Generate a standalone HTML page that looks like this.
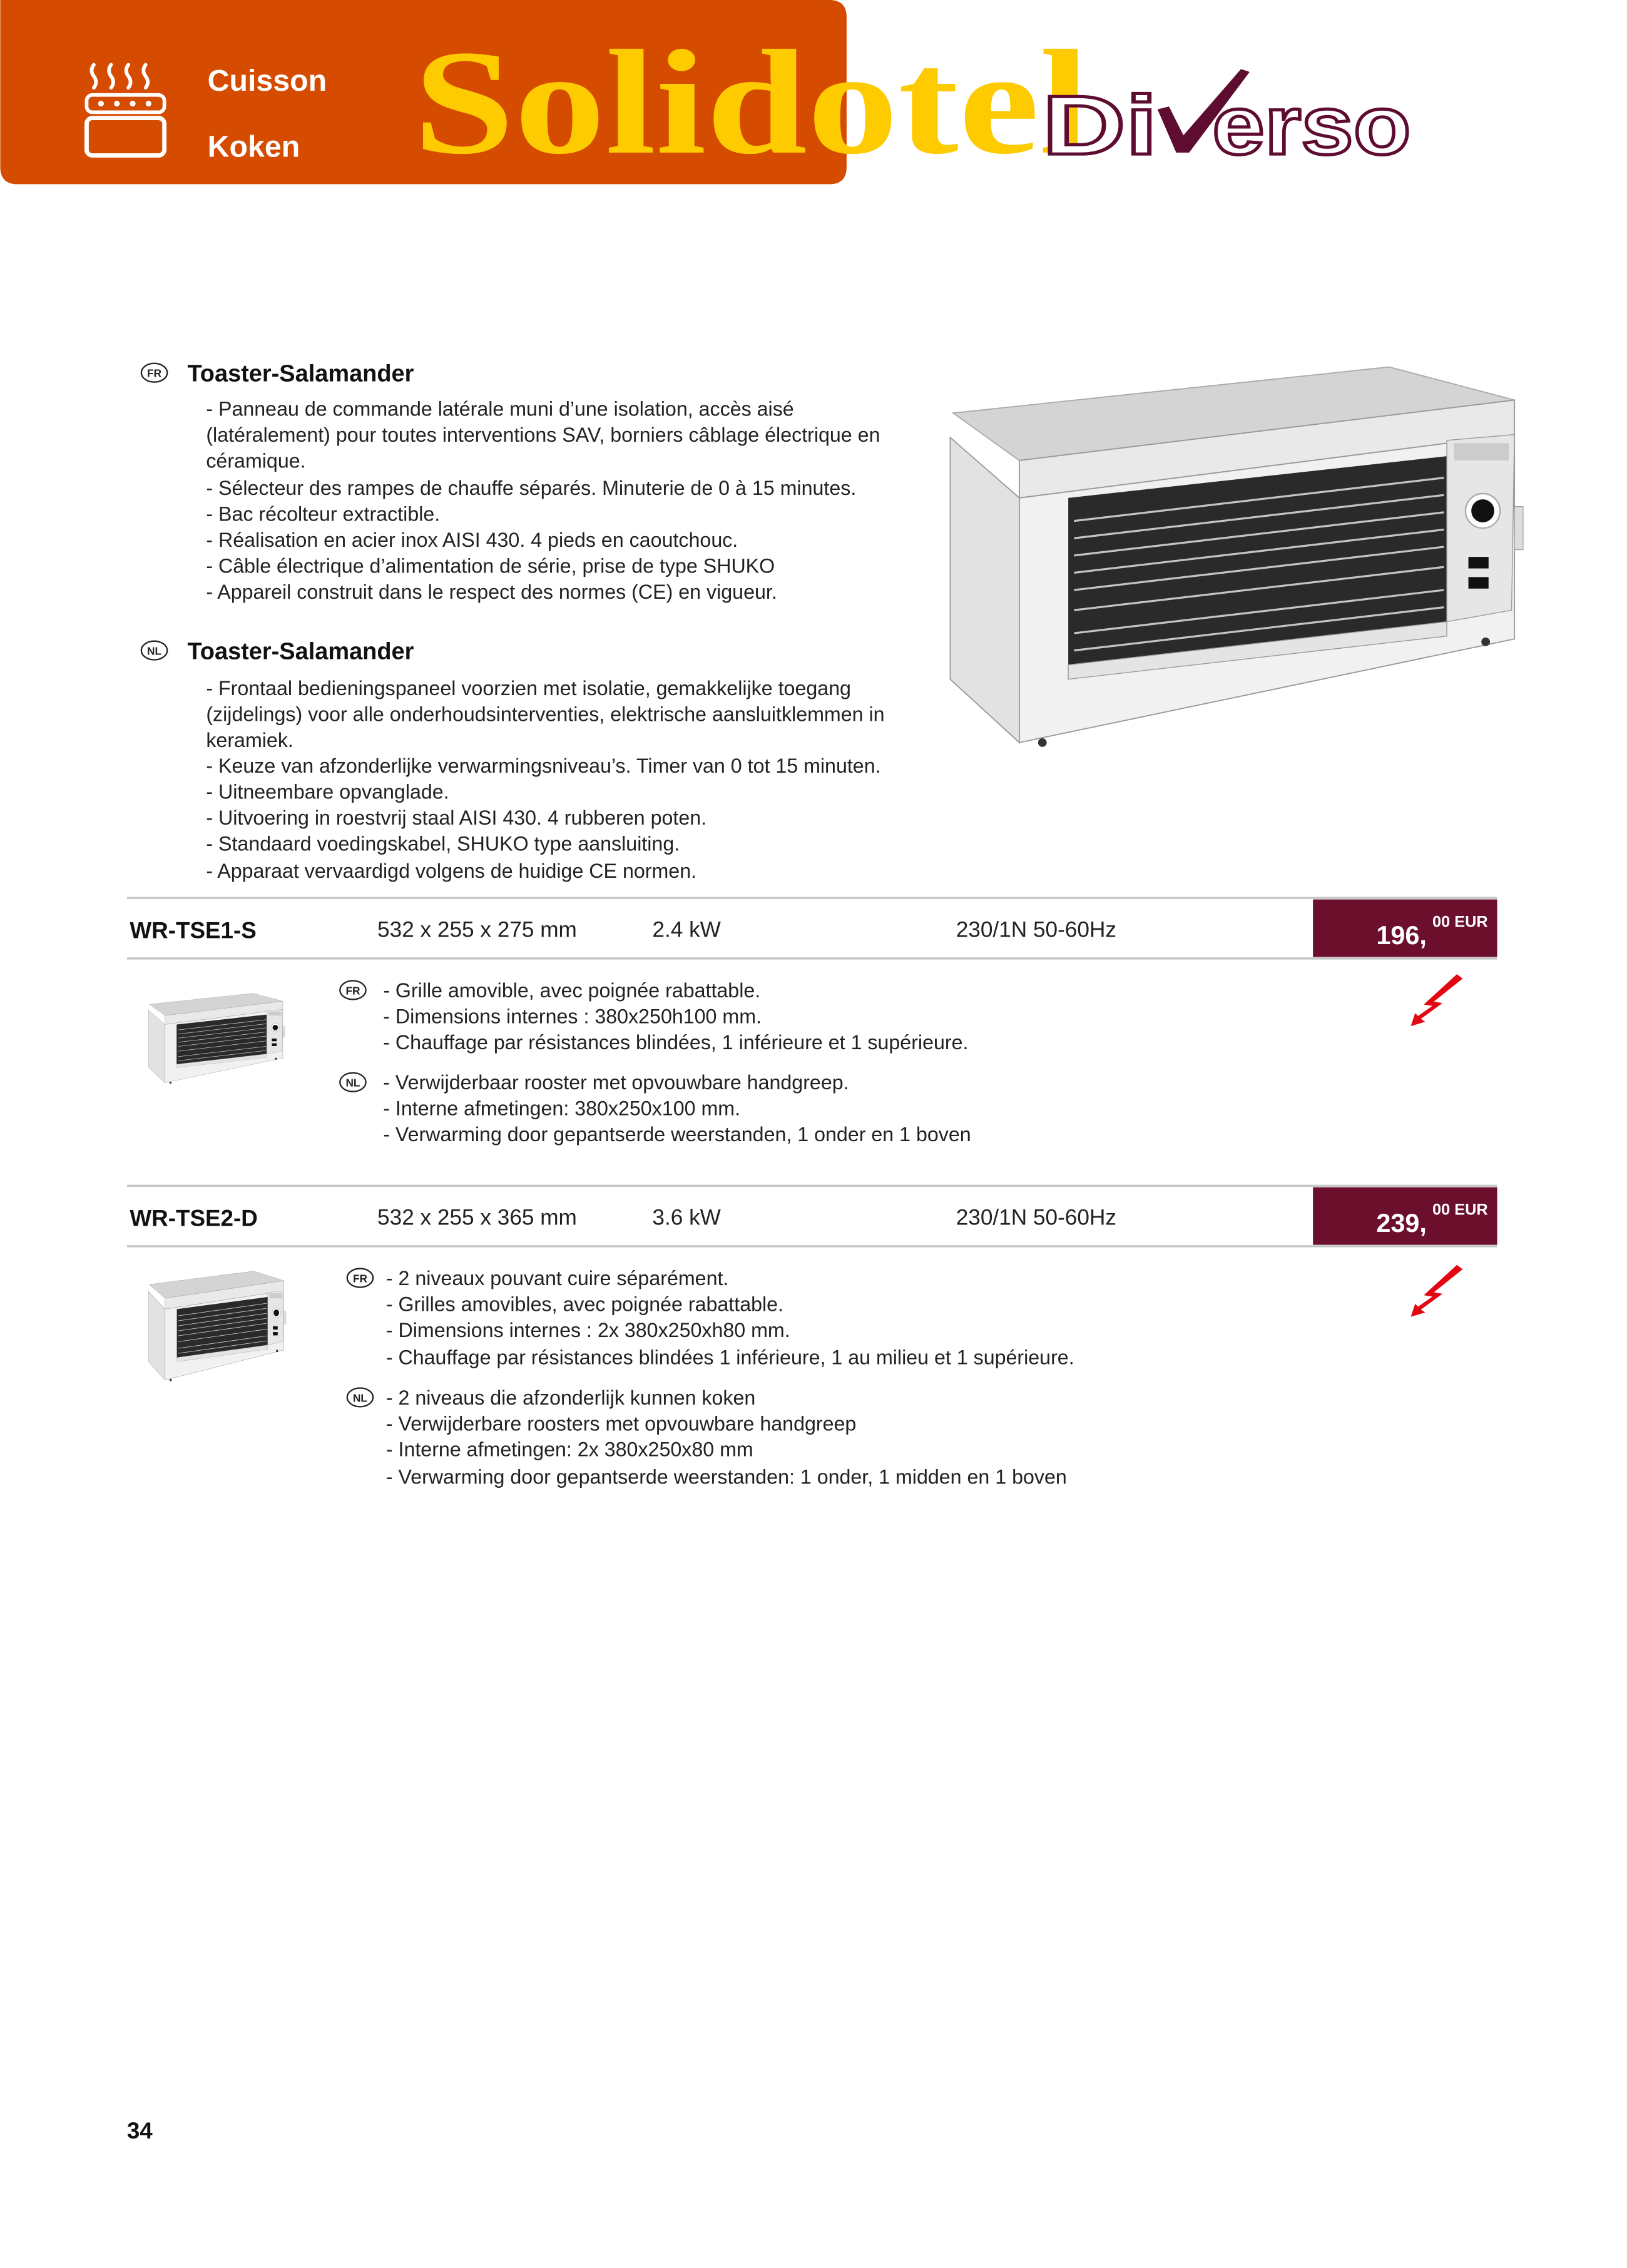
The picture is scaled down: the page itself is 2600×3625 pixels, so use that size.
<!DOCTYPE html>
<html><head><meta charset="utf-8"><style>html,body{margin:0;padding:0;background:#fff}svg{display:block}</style></head>
<body>
<svg xmlns="http://www.w3.org/2000/svg" width="2600" height="3625" viewBox="0 0 1130 1576" font-family="Liberation Sans, sans-serif">
<defs>
<g id="toaster">
  <polygon points="2,33 305,1 392,24 48,66" fill="#d4d4d4" stroke="#aaa" stroke-width="0.8"/>
  <polygon points="48,66 392,24 392,48 48,92" fill="#e9e9e9" stroke="#999" stroke-width="0.8"/>
  <polygon points="0,50 48,92 48,262 0,218" fill="#e2e2e2" stroke="#999" stroke-width="0.8"/>
  <polygon points="48,92 392,48 392,190 48,262" fill="#f1f1f1" stroke="#999" stroke-width="0.8"/>
  <polygon points="82,92 345,63 345,180 82,210" fill="#2a2a2a"/>
  <g stroke="#c4c4c4" stroke-width="1.4">
    <line x1="86" y1="108" x2="343" y2="78"/><line x1="86" y1="120" x2="343" y2="90"/>
    <line x1="86" y1="132" x2="343" y2="102"/><line x1="86" y1="144" x2="343" y2="114"/>
    <line x1="86" y1="156" x2="343" y2="126"/><line x1="86" y1="170" x2="343" y2="140"/>
    <line x1="86" y1="186" x2="343" y2="156"/><line x1="86" y1="198" x2="343" y2="168"/>
  </g>
  <polygon points="82,208 345,178 345,188 82,218" fill="#e4e4e4" stroke="#999" stroke-width="0.6"/>
  <polygon points="345,52 392,48 390,170 345,178" fill="#e6e6e6" stroke="#999" stroke-width="0.6"/>
  <rect x="350" y="54" width="38" height="12" fill="#ccc"/>
  <circle cx="370" cy="101" r="12" fill="#fff" stroke="#aaa"/>
  <circle cx="370" cy="101" r="8" fill="#111"/>
  <rect x="360" y="133" width="14" height="8" fill="#111"/><rect x="360" y="147" width="14" height="8" fill="#111"/>
  <rect x="392" y="98" width="6" height="30" fill="#ddd" stroke="#999" stroke-width="0.5"/>
  <circle cx="372" cy="192" r="3" fill="#333"/><circle cx="64" cy="262" r="3" fill="#333"/>
</g>
</defs>

<path d="M0,0 H576 Q588,0 588,12 V116 Q588,128 576,128 H12 Q0,128 0,116 Z" fill="#d54b00"/>
<g fill="none" stroke="#fff" stroke-width="2.5" stroke-linecap="round">
  <path d="M65,45 q-3,4 0,8 q3,4 0,8"/><path d="M77,45 q-3,4 0,8 q3,4 0,8"/>
  <path d="M89,45 q-3,4 0,8 q3,4 0,8"/><path d="M101,45 q-3,4 0,8 q3,4 0,8"/>
  <rect x="60" y="66" width="54" height="12" rx="4"/>
  <rect x="60" y="82" width="54" height="26" rx="4" stroke-width="3"/>
</g>
<g fill="#fff"><circle cx="70" cy="72" r="2"/><circle cx="81" cy="72" r="2"/><circle cx="92" cy="72" r="2"/><circle cx="103" cy="72" r="2"/></g>
<text x="144" y="63" font-size="21" font-weight="bold" fill="#fff">Cuisson</text>
<text x="144" y="109" font-size="21" font-weight="bold" fill="#fff">Koken</text>
<text x="287" y="106" font-family="Liberation Serif, serif" font-weight="bold" font-size="104" fill="#fecb00" textLength="470" lengthAdjust="spacingAndGlyphs">Solidotel</text>
<text x="724" y="107" font-size="58" font-weight="bold" fill="#fff" stroke="#5e0d30" stroke-width="2.2" textLength="80" lengthAdjust="spacingAndGlyphs">Di</text>
<text x="842" y="107" font-size="58" font-weight="bold" fill="#fff" stroke="#5e0d30" stroke-width="2.2" textLength="138" lengthAdjust="spacingAndGlyphs">erso</text>
<polygon points="804,76 812,74 822,94 862,48 868,50 826,106 817,106" fill="#5e0d30"/>

<g font-size="14" fill="#222">
<ellipse cx="107" cy="259" rx="9" ry="6.5" fill="none" stroke="#222" stroke-width="1"/>
<text x="107" y="262" font-size="7.5" font-weight="bold" text-anchor="middle">FR</text>
<text x="130" y="265" font-size="16.5" font-weight="bold" fill="#111">Toaster-Salamander</text>
<text x="143" y="289">- Panneau de commande latérale muni d’une isolation, accès aisé</text>
<text x="143" y="307">(latéralement) pour toutes interventions SAV, borniers câblage électrique en</text>
<text x="143" y="325">céramique.</text>
<text x="143" y="344">- Sélecteur des rampes de chauffe séparés. Minuterie de 0 à 15 minutes.</text>
<text x="143" y="362">- Bac récolteur extractible.</text>
<text x="143" y="380">- Réalisation en acier inox AISI 430. 4 pieds en caoutchouc.</text>
<text x="143" y="398">- Câble électrique d’alimentation de série, prise de type SHUKO</text>
<text x="143" y="416">- Appareil construit dans le respect des normes (CE) en vigueur.</text>

<ellipse cx="107" cy="452" rx="9" ry="6.5" fill="none" stroke="#222" stroke-width="1"/>
<text x="107" y="455" font-size="7.5" font-weight="bold" text-anchor="middle">NL</text>
<text x="130" y="458" font-size="16.5" font-weight="bold" fill="#111">Toaster-Salamander</text>
<text x="143" y="483">- Frontaal bedieningspaneel voorzien met isolatie, gemakkelijke toegang</text>
<text x="143" y="501">(zijdelings) voor alle onderhoudsinterventies, elektrische aansluitklemmen in</text>
<text x="143" y="519">keramiek.</text>
<text x="143" y="537">- Keuze van afzonderlijke verwarmingsniveau’s. Timer van 0 tot 15 minuten.</text>
<text x="143" y="555">- Uitneembare opvanglade.</text>
<text x="143" y="573">- Uitvoering in roestvrij staal AISI 430. 4 rubberen poten.</text>
<text x="143" y="591">- Standaard voedingskabel, SHUKO type aansluiting.</text>
<text x="143" y="610">- Apparaat vervaardigd volgens de huidige CE normen.</text>
</g>
<use href="#toaster" transform="translate(660,254)"/>

<line x1="88" y1="624" x2="1040" y2="624" stroke="#c8c8c8" stroke-width="1.5"/>
<line x1="88" y1="666" x2="1040" y2="666" stroke="#c8c8c8" stroke-width="1.5"/>
<rect x="912" y="625" width="128" height="40" fill="#6b0f2c"/>
<text x="90" y="652" font-size="16" font-weight="bold" fill="#111">WR-TSE1-S</text>
<g font-size="15.3" fill="#222"><text x="262" y="651">532 x 255 x 275 mm</text><text x="453" y="651">2.4 kW</text><text x="664" y="651">230/1N 50-60Hz</text></g>
<text x="956" y="656" font-size="18" font-weight="bold" fill="#fff">196,</text>
<text x="995" y="644" font-size="11" font-weight="bold" fill="#fff">00 EUR</text>
<use href="#toaster" transform="translate(103,690) scale(0.238)"/>
<g font-size="14" fill="#222">
<ellipse cx="245" cy="688" rx="9" ry="6.5" fill="none" stroke="#222"/><text x="245" y="691" font-size="7.5" font-weight="bold" text-anchor="middle">FR</text>
<text x="266" y="693">- Grille amovible, avec poignée rabattable.</text>
<text x="266" y="711">- Dimensions internes : 380x250h100 mm.</text>
<text x="266" y="729">- Chauffage par résistances blindées, 1 inférieure et 1 supérieure.</text>
<ellipse cx="245" cy="752" rx="9" ry="6.5" fill="none" stroke="#222"/><text x="245" y="755" font-size="7.5" font-weight="bold" text-anchor="middle">NL</text>
<text x="266" y="757">- Verwijderbaar rooster met opvouwbare handgreep.</text>
<text x="266" y="775">- Interne afmetingen: 380x250x100 mm.</text>
<text x="266" y="793">- Verwarming door gepantserde weerstanden, 1 onder en 1 boven</text>
</g>
<polygon points="1012,677 1016,680 996,696 1002,697 987,708 990,710 980,713 983,704 985,706 995,699 989,698" fill="#e30613"/>

<line x1="88" y1="824" x2="1040" y2="824" stroke="#c8c8c8" stroke-width="1.5"/>
<line x1="88" y1="866" x2="1040" y2="866" stroke="#c8c8c8" stroke-width="1.5"/>
<rect x="912" y="825" width="128" height="40" fill="#6b0f2c"/>
<text x="90" y="852" font-size="16" font-weight="bold" fill="#111">WR-TSE2-D</text>
<g font-size="15.3" fill="#222"><text x="262" y="851">532 x 255 x 365 mm</text><text x="453" y="851">3.6 kW</text><text x="664" y="851">230/1N 50-60Hz</text></g>
<text x="956" y="856" font-size="18" font-weight="bold" fill="#fff">239,</text>
<text x="995" y="844" font-size="11" font-weight="bold" fill="#fff">00 EUR</text>
<use href="#toaster" transform="translate(103,883) scale(0.24,0.29)"/>
<g font-size="14" fill="#222">
<ellipse cx="250" cy="888" rx="9" ry="6.5" fill="none" stroke="#222"/><text x="250" y="891" font-size="7.5" font-weight="bold" text-anchor="middle">FR</text>
<text x="268" y="893">- 2 niveaux pouvant cuire séparément.</text>
<text x="268" y="911">- Grilles amovibles, avec poignée rabattable.</text>
<text x="268" y="929">- Dimensions internes : 2x 380x250xh80 mm.</text>
<text x="268" y="948">- Chauffage par résistances blindées 1 inférieure, 1 au milieu et 1 supérieure.</text>
<ellipse cx="250" cy="971" rx="9" ry="6.5" fill="none" stroke="#222"/><text x="250" y="974" font-size="7.5" font-weight="bold" text-anchor="middle">NL</text>
<text x="268" y="976">- 2 niveaus die afzonderlijk kunnen koken</text>
<text x="268" y="994">- Verwijderbare roosters met opvouwbare handgreep</text>
<text x="268" y="1012">- Interne afmetingen: 2x 380x250x80 mm</text>
<text x="268" y="1031">- Verwarming door gepantserde weerstanden: 1 onder, 1 midden en 1 boven</text>
</g>
<polygon points="1012,879 1016,882 996,898 1002,899 987,910 990,912 980,915 983,906 985,908 995,901 989,900" fill="#e30613"/>

<text x="88" y="1486" font-size="16" font-weight="bold" fill="#111">34</text>
</svg>
</body></html>
